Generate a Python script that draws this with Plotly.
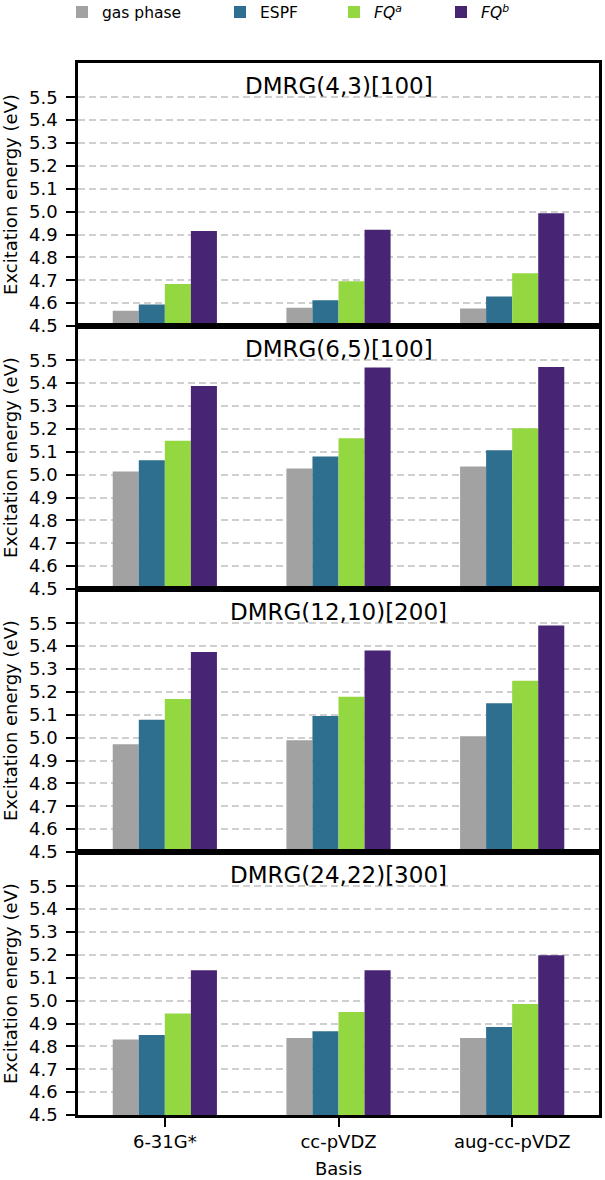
import plotly.graph_objects as go

# ---------------- data ----------------
bases = ["6-31G*", "cc-pVDZ", "aug-cc-pVDZ"]
panel_titles = ["DMRG(4,3)[100]", "DMRG(6,5)[100]", "DMRG(12,10)[200]", "DMRG(24,22)[300]"]
series_names = ["gas phase", "ESPF", "<i>FQ<sup>a</sup></i>", "<i>FQ<sup>b</sup></i>"]

gas_phase = [[4.567, 4.580, 4.577], [5.014, 5.027, 5.036], [4.971, 4.989, 5.006], [4.830, 4.837, 4.837]]
espf      = [[4.594, 4.613, 4.629], [5.063, 5.079, 5.107], [5.078, 5.095, 5.150], [4.850, 4.866, 4.885]]
fq_a      = [[4.684, 4.696, 4.731], [5.148, 5.159, 5.203], [5.169, 5.179, 5.249], [4.944, 4.950, 4.985]]
fq_b      = [[4.915, 4.921, 4.993], [5.388, 5.468, 5.471], [5.375, 5.381, 5.490], [5.133, 5.133, 5.199]]

y_tickvals = [4.5, 4.6, 4.7, 4.8, 4.9, 5.0, 5.1, 5.2, 5.3, 5.4, 5.5]
y_ticktext = ["4.5", "4.6", "4.7", "4.8", "4.9", "5.0", "5.1", "5.2", "5.3", "5.4", "5.5"]

# ---------------- style ----------------
colors = ["#a2a2a2", "#2e6e8e", "#93d741", "#482475"]
FONT = "DejaVu Sans"
W, H = 605, 1180
ML, MR, MT, MB = 78, 3, 63, 62
legend_text_x = [101, 259, 373, 480]
legend_ids = ["legend", "legend2", "legend3", "legend4"]

all_series = [gas_phase, espf, fq_a, fq_b]

fig = go.Figure()
n = len(panel_titles)
for p in range(n):
    ax = "" if p == 0 else str(p + 1)
    for s, (name, data) in enumerate(zip(series_names, all_series)):
        fig.add_trace(go.Bar(
            x=bases, y=data[p], name=name,
            marker=dict(color=colors[s], line=dict(width=0)),
            xaxis="x" + ax, yaxis="y" + ax,
            showlegend=(p == 0), legend=legend_ids[s],
            offsetgroup=str(s),
        ))

layout = dict(
    width=W, height=H,
    margin=dict(l=ML, r=MR, t=MT, b=MB, pad=0),
    paper_bgcolor="white", plot_bgcolor="white",
    font=dict(family=FONT, size=18, color="black"),
    barmode="group", bargap=0.4, bargroupgap=0,
    annotations=[],
)

for s in range(4):
    key = legend_ids[s]
    layout[key] = dict(
        x=(legend_text_x[s] - 39) / W, xref="container", xanchor="left",
        y=1 - 12.5 / H, yref="container", yanchor="middle",
        orientation="h", bgcolor="rgba(0,0,0,0)", borderwidth=0,
        font=dict(family=FONT, size=15.5, color="black"),
    )

for p in range(n):
    ax = "" if p == 0 else str(p + 1)
    top = 1 - p / n
    bot = 1 - (p + 1) / n
    is_bottom = (p == n - 1)
    xa = dict(
        domain=[0, 1], anchor="y" + ax,
        range=[-0.5, 2.5],
        showline=True, linecolor="black", linewidth=2.5, mirror=True,
        showgrid=False, zeroline=False,
        ticks="outside" if is_bottom else "", ticklen=9, tickwidth=2, tickcolor="black",
        showticklabels=is_bottom,
        tickfont=dict(family=FONT, size=18),
    )
    if p > 0:
        xa["matches"] = "x"
    if is_bottom:
        xa["title"] = dict(text="Basis", font=dict(family=FONT, size=18), standoff=12)
    layout["xaxis" + ax] = xa
    layout["yaxis" + ax] = dict(
        domain=[bot, top], anchor="x" + ax,
        range=[4.5, 5.65],
        tickvals=y_tickvals, ticktext=y_ticktext,
        showline=True, linecolor="black", linewidth=2.5, mirror=True,
        ticks="outside", ticklen=9, tickwidth=2, tickcolor="black",
        ticklabelstandoff=5,
        showgrid=True, gridcolor="#cfcfcf", gridwidth=1.8, griddash="7px,4px",
        zeroline=False,
        tickfont=dict(family=FONT, size=18),
        title=dict(text="Excitation energy (eV)", font=dict(family=FONT, size=18), standoff=7),
    )
    layout["annotations"].append(dict(
        text=panel_titles[p], x=0.5, xref=("x" + ax + " domain") if ax else "x domain",
        y=0.914, yref=("y" + ax + " domain") if ax else "y domain",
        xanchor="center", yanchor="middle", showarrow=False,
        font=dict(family=FONT, size=23, color="black"),
    ))

fig.update_layout(**layout)
fig.write_html("out.html")
